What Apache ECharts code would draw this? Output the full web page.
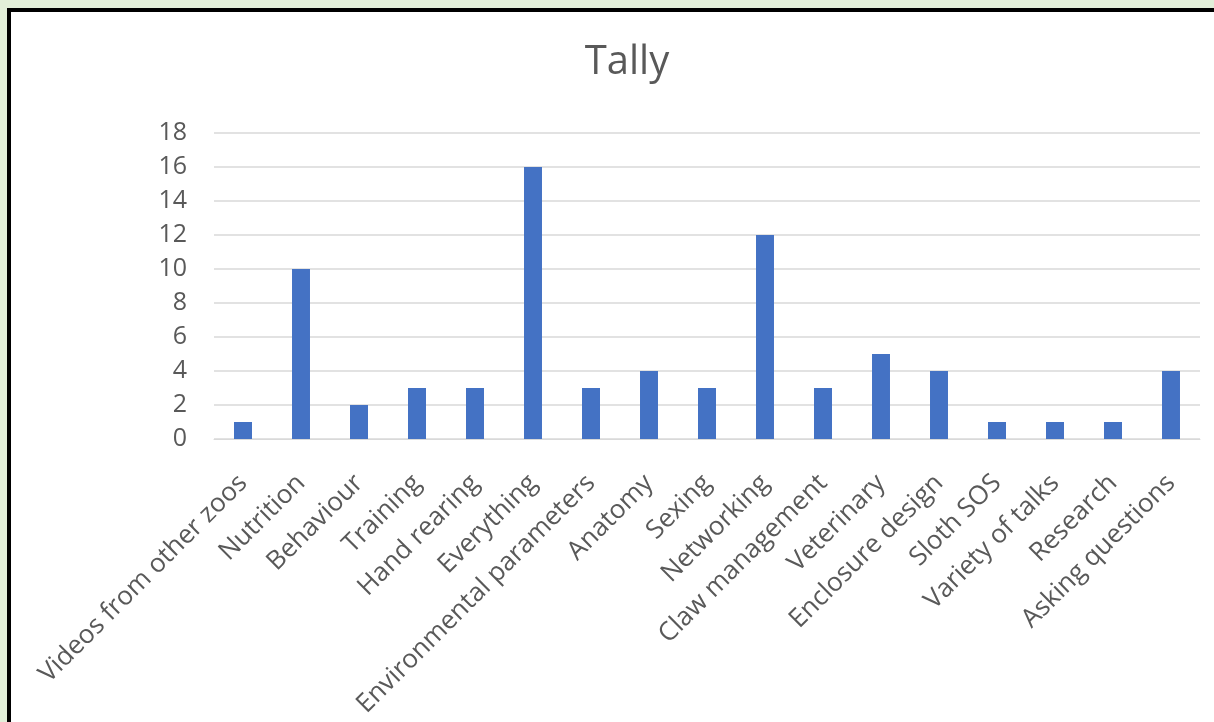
<!DOCTYPE html>
<html><head><meta charset="utf-8">
<script src="https://cdn.jsdelivr.net/npm/echarts@6/dist/echarts.min.js"></script>
<style>html,body{margin:0;padding:0;}#c{width:1214px;height:722px;}</style>
</head><body><div id="c"></div>
<script>
const categories = ["Videos from other zoos","Nutrition","Behaviour","Training","Hand rearing","Everything","Environmental parameters","Anatomy","Sexing","Networking","Claw management","Veterinary","Enclosure design","Sloth SOS","Variety of talks","Research","Asking questions"];
const tally = [1,10,2,3,3,16,3,4,3,12,3,5,4,1,1,1,4];
const yTicks = {min:0,max:18,interval:2};
const chart = echarts.init(document.getElementById('c'));
chart.setOption({
  backgroundColor:'#e2efd9',
  animation:false,
  graphic:[
    {type:'rect',z:-10,shape:{x:7,y:8,width:1207,height:714},style:{fill:'#000'}},
    {type:'rect',z:-9,shape:{x:11,y:12,width:1203,height:710},style:{fill:'#fff'}}
  ],
  title:{text:'Tally',left:622,top:38,textAlign:'center',textStyle:{fontFamily:'Open Sans',fontWeight:'normal',fontSize:40,color:'#595959'}},
  grid:{left:214,right:14,top:133,bottom:283},
  xAxis:{type:'category',data:categories,
    axisLine:{show:true,lineStyle:{color:'#d9d9d9'}},axisTick:{show:false},
    axisLabel:{rotate:45,interval:0,fontFamily:'Open Sans',fontSize:26,color:'#595959',margin:40}},
  yAxis:{type:'value',min:yTicks.min,max:yTicks.max,interval:yTicks.interval,
    axisLine:{show:false},axisTick:{show:false},
    splitLine:{lineStyle:{color:'#d9d9d9',width:1.5}},
    axisLabel:{fontFamily:'Open Sans',fontSize:25,color:'#595959',margin:27}},
  series:[{type:'bar',data:tally,barWidth:'31%',itemStyle:{color:'#4472c4'}}]
});
</script></body></html>
